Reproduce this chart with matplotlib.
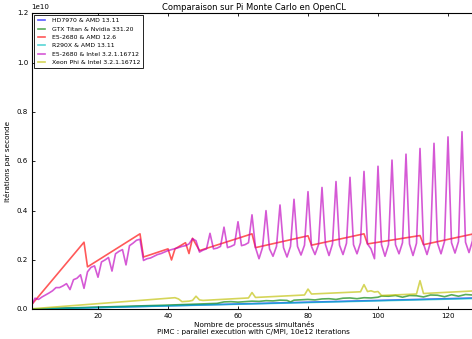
import numpy as np
import matplotlib
matplotlib.use("Agg")
import matplotlib.pyplot as plt

# Number of simultaneous processes and iterations per second (in units of 1e10)
procs = np.arange(1, 129)

hd7970_x = [1, 32, 64, 96, 128]
hd7970_y = [0.0004, 0.0115, 0.023, 0.0345, 0.046]

gtx_x = [1, 20, 40, 50, 54, 56, 58, 60, 62, 64, 66, 68, 70, 72, 74, 75, 76, 80, 82, 84,
         86, 88, 90, 92, 94, 96, 98, 100, 101, 103, 105, 107, 109, 111, 113, 115, 117,
         119, 121, 123, 125, 127, 128]
gtx_y = [0.001, 0.009, 0.017, 0.022, 0.024, 0.030, 0.031, 0.029, 0.031, 0.033, 0.032,
         0.035, 0.034, 0.037, 0.036, 0.030, 0.037, 0.040, 0.038, 0.042, 0.043, 0.040,
         0.045, 0.046, 0.043, 0.047, 0.046, 0.049, 0.054, 0.053, 0.056, 0.049, 0.056,
         0.055, 0.050, 0.058, 0.057, 0.051, 0.059, 0.053, 0.060, 0.058, 0.061]

e5_amd_x = [1, 16, 17, 32, 33, 40, 41, 42, 45, 46, 47, 49, 64, 65, 80, 81, 96, 97,
            112, 113, 128]
e5_amd_y = [0.018, 0.272, 0.172, 0.306, 0.212, 0.245, 0.200, 0.245, 0.270, 0.226,
            0.288, 0.238, 0.306, 0.250, 0.298, 0.260, 0.306, 0.265, 0.299, 0.262, 0.308]

r290x_x = [1, 32, 64, 96, 128]
r290x_y = [0.0003, 0.011, 0.022, 0.033, 0.044]

e5_intel_y = [
    0.016, 0.045, 0.040, 0.050, 0.058, 0.066, 0.075, 0.088,
    0.088, 0.095, 0.104, 0.080, 0.120, 0.126, 0.140, 0.085,
    0.152, 0.170, 0.176, 0.130, 0.192, 0.200, 0.210, 0.155,
    0.225, 0.235, 0.242, 0.180, 0.258, 0.268, 0.280, 0.284,
    0.198, 0.205, 0.208, 0.215, 0.222, 0.226, 0.232, 0.238,
    0.242, 0.246, 0.250, 0.255, 0.258, 0.265, 0.286, 0.278,
    0.232, 0.240, 0.245, 0.308, 0.245, 0.248, 0.255, 0.333,
    0.250, 0.255, 0.262, 0.355, 0.258, 0.262, 0.270, 0.383,
    0.250, 0.205, 0.250, 0.400, 0.245, 0.215, 0.255, 0.423,
    0.250, 0.212, 0.255, 0.446, 0.255, 0.220, 0.260, 0.477,
    0.255, 0.222, 0.262, 0.494, 0.262, 0.218, 0.265, 0.518,
    0.260, 0.222, 0.268, 0.535, 0.262, 0.225, 0.270, 0.559,
    0.265, 0.245, 0.205, 0.580, 0.262, 0.215, 0.262, 0.605,
    0.262, 0.225, 0.270, 0.629, 0.265, 0.218, 0.268, 0.652,
    0.265, 0.222, 0.272, 0.673, 0.268, 0.225, 0.275, 0.699,
    0.270, 0.228, 0.275, 0.720, 0.272, 0.230, 0.278, 0.740,
]

xeon_x = [1, 42, 43, 44, 46, 47, 48, 49, 50, 63, 64, 65, 79, 80, 81, 95, 96, 97, 98,
          99, 100, 101, 111, 112, 113, 128]
xeon_y = [0.002, 0.047, 0.042, 0.031, 0.033, 0.036, 0.053, 0.038, 0.036, 0.046, 0.068,
          0.048, 0.058, 0.082, 0.062, 0.071, 0.100, 0.072, 0.075, 0.070, 0.072, 0.056,
          0.062, 0.116, 0.064, 0.075]

labels = ["HD7970 & AMD 13.11", "GTX Titan & Nvidia 331.20", "E5-2680 & AMD 12.6",
          "R290X & AMD 13.11", "E5-2680 & Intel 3.2.1.16712",
          "Xeon Phi & Intel 3.2.1.16712"]

series = [
    (hd7970_x, hd7970_y, "b"),
    (gtx_x, gtx_y, "g"),
    (e5_amd_x, e5_amd_y, "r"),
    (r290x_x, r290x_y, "c"),
    (procs, e5_intel_y, "m"),
    (xeon_x, xeon_y, "y"),
]

plt.style.use("classic")
plt.rcParams["font.family"] = ["DejaVu Sans"]

W, H = 472, 339
fig = plt.figure(figsize=(W / 100, H / 100), dpi=100, facecolor="white")
left, right, top, bottom = 31.5, 476.0, 13.3, 309.3
ax = fig.add_axes([left / W, 1 - bottom / H, (right - left) / W, (bottom - top) / H])

for (xs, ys, col), lab in zip(series, labels):
    ax.plot(xs, np.array(ys) * 1e10, color=col, alpha=0.65, lw=1.2, label=lab)

ax.set_xlim(1, 128)
ax.set_ylim(0, 1.2e10)
ax.set_xticks([20, 40, 60, 80, 100, 120])
ax.set_yticks(np.arange(0, 1.21, 0.2) * 1e10)
ax.tick_params(labelsize=5.1, length=2.3, width=0.6, direction="in", pad=2.5,
               top=True, right=True)
ax.yaxis.get_offset_text().set_fontsize(5.1)
for s in ax.spines.values():
    s.set_linewidth(0.8)

ax.set_title("Comparaison sur Pi Monte Carlo en OpenCL", fontsize=6.0, pad=2.5)
ax.set_xlabel("Nombre de processus simultanés\n"
              "PiMC : parallel execution with C/MPI, 10e12 iterations",
              fontsize=5.2, labelpad=1.5, linespacing=1.3)
ax.set_ylabel("Itérations par seconde", fontsize=5.2, labelpad=4)

leg = ax.legend(loc="upper left", fontsize=4.4, frameon=True, fancybox=False,
                borderaxespad=0.35, handlelength=1.7, handletextpad=0.8,
                labelspacing=0.5, borderpad=0.45)
leg.get_frame().set_edgecolor("black")
leg.get_frame().set_linewidth(0.6)

fig.savefig("out.png", dpi=100, facecolor="white")
